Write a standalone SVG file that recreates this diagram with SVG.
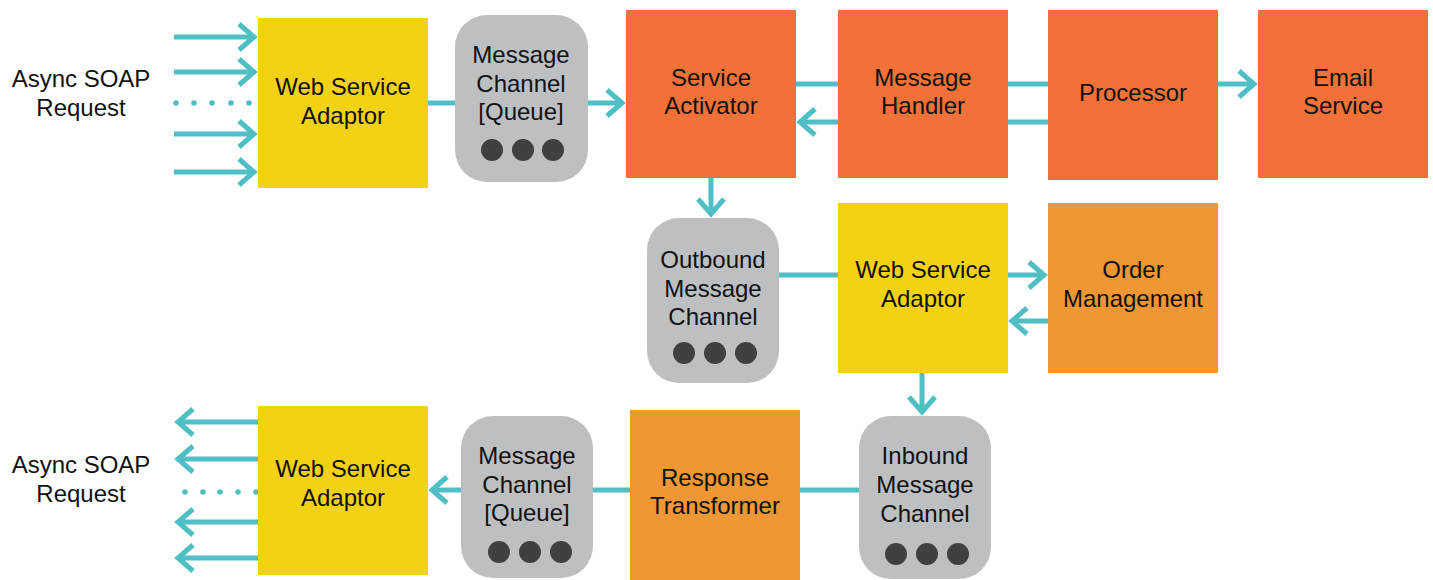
<svg xmlns="http://www.w3.org/2000/svg" width="1433" height="580" viewBox="0 0 1433 580">
<style>
.t{font-family:"Liberation Sans",Arial,sans-serif;font-size:24px;fill:#111;text-anchor:middle}
.y{fill:#F3D213}
.o{fill:#F27138}
.l{fill:#EE9734}
.g{fill:#BEBFC1}
.d{fill:#404042}
.c{stroke:#4FBFC4;stroke-width:5;fill:none}
.a{marker-end:url(#ah)}
.p{fill:#4FBFC4}
</style>
<defs>
<marker id="ah" markerUnits="userSpaceOnUse" markerWidth="40" markerHeight="40" viewBox="-25 -20 40 40" refX="0" refY="0" orient="auto" overflow="visible">
<path d="M-15,-13 L0,0 L-15,13" fill="none" stroke="#4FBFC4" stroke-width="5"/>
</marker>
</defs>
<g id="connectors">
<line class="c a" x1="174" y1="37" x2="254" y2="37"/>
<line class="c a" x1="174" y1="72" x2="254" y2="72"/>
<line class="c a" x1="174" y1="134" x2="254" y2="134"/>
<line class="c a" x1="174" y1="172" x2="254" y2="172"/>
<g class="p"><circle cx="176" cy="103" r="2.8"/><circle cx="194" cy="103" r="2.8"/><circle cx="212" cy="103" r="2.8"/><circle cx="231" cy="103" r="2.8"/><circle cx="249" cy="103" r="2.8"/></g>
<line class="c" x1="428" y1="103" x2="455" y2="103"/>
<line class="c a" x1="588" y1="103" x2="622" y2="103"/>
<line class="c" x1="796" y1="84" x2="838" y2="84"/>
<line class="c a" x1="838" y1="122" x2="800" y2="122"/>
<line class="c" x1="1008" y1="84" x2="1048" y2="84"/>
<line class="c" x1="1008" y1="122" x2="1048" y2="122"/>
<line class="c a" x1="1218" y1="84" x2="1254" y2="84"/>
<line class="c a" x1="711" y1="178" x2="711" y2="214"/>
<line class="c" x1="779" y1="275" x2="838" y2="275"/>
<line class="c a" x1="1008" y1="275" x2="1044" y2="275"/>
<line class="c a" x1="1048" y1="321" x2="1012" y2="321"/>
<line class="c a" x1="922" y1="373" x2="922" y2="412"/>
<line class="c" x1="800" y1="490" x2="859" y2="490"/>
<line class="c" x1="593" y1="490" x2="630" y2="490"/>
<line class="c a" x1="461" y1="490" x2="432" y2="490"/>
<line class="c a" x1="258" y1="422" x2="178" y2="422"/>
<line class="c a" x1="258" y1="459" x2="178" y2="459"/>
<line class="c a" x1="258" y1="522" x2="178" y2="522"/>
<line class="c a" x1="258" y1="558" x2="178" y2="558"/>
<g class="p"><circle cx="185" cy="492" r="2.8"/><circle cx="203" cy="492" r="2.8"/><circle cx="220" cy="492" r="2.8"/><circle cx="238" cy="492" r="2.8"/><circle cx="256" cy="492" r="2.8"/></g>
</g>
<g id="label-top"><text class="t" x="81" y="87">Async SOAP</text><text class="t" x="81" y="116">Request</text></g>
<g id="label-bottom"><text class="t" x="81" y="473">Async SOAP</text><text class="t" x="81" y="502">Request</text></g>
<g id="wsa1"><rect class="y" x="258" y="18" width="170" height="170"/><text class="t" x="343" y="95">Web Service</text><text class="t" x="343" y="124">Adaptor</text></g>
<g id="mc1"><rect class="g" x="455" y="15" width="133" height="167" rx="32"/><text class="t" x="521" y="63">Message</text><text class="t" x="521" y="92">Channel</text><text class="t" x="521" y="120">[Queue]</text><circle class="d" cx="492" cy="150" r="11"/><circle class="d" cx="523" cy="150" r="11"/><circle class="d" cx="553" cy="150" r="11"/></g>
<g id="sa"><rect class="o" x="626" y="10" width="170" height="168"/><text class="t" x="711" y="86">Service</text><text class="t" x="711" y="114">Activator</text></g>
<g id="mh"><rect class="o" x="838" y="10" width="170" height="168"/><text class="t" x="923" y="86">Message</text><text class="t" x="923" y="114">Handler</text></g>
<g id="proc"><rect class="o" x="1048" y="10" width="170" height="170"/><text class="t" x="1133" y="101">Processor</text></g>
<g id="email"><rect class="o" x="1258" y="10" width="170" height="168"/><text class="t" x="1343" y="86">Email</text><text class="t" x="1343" y="114">Service</text></g>
<g id="outbound"><rect class="g" x="647" y="218" width="132" height="165" rx="32"/><text class="t" x="713" y="268">Outbound</text><text class="t" x="713" y="297">Message</text><text class="t" x="713" y="325">Channel</text><circle class="d" cx="684" cy="353" r="11"/><circle class="d" cx="715" cy="353" r="11"/><circle class="d" cx="746" cy="353" r="11"/></g>
<g id="wsa2"><rect class="y" x="838" y="203" width="170" height="170"/><text class="t" x="923" y="278">Web Service</text><text class="t" x="923" y="307">Adaptor</text></g>
<g id="order"><rect class="l" x="1048" y="203" width="170" height="170"/><text class="t" x="1133" y="278">Order</text><text class="t" x="1133" y="307">Management</text></g>
<g id="inbound"><rect class="g" x="859" y="416" width="132" height="163" rx="32"/><text class="t" x="925" y="464">Inbound</text><text class="t" x="925" y="493">Message</text><text class="t" x="925" y="522">Channel</text><circle class="d" cx="896" cy="554" r="11"/><circle class="d" cx="927" cy="554" r="11"/><circle class="d" cx="958" cy="554" r="11"/></g>
<g id="rt"><rect class="l" x="630" y="410" width="170" height="170"/><text class="t" x="715" y="486">Response</text><text class="t" x="715" y="514">Transformer</text></g>
<g id="mc3"><rect class="g" x="461" y="416" width="132" height="162" rx="32"/><text class="t" x="527" y="464">Message</text><text class="t" x="527" y="493">Channel</text><text class="t" x="527" y="521">[Queue]</text><circle class="d" cx="499" cy="552" r="11"/><circle class="d" cx="530" cy="552" r="11"/><circle class="d" cx="561" cy="552" r="11"/></g>
<g id="wsa3"><rect class="y" x="258" y="406" width="170" height="169"/><text class="t" x="343" y="477">Web Service</text><text class="t" x="343" y="506">Adaptor</text></g>
</svg>
